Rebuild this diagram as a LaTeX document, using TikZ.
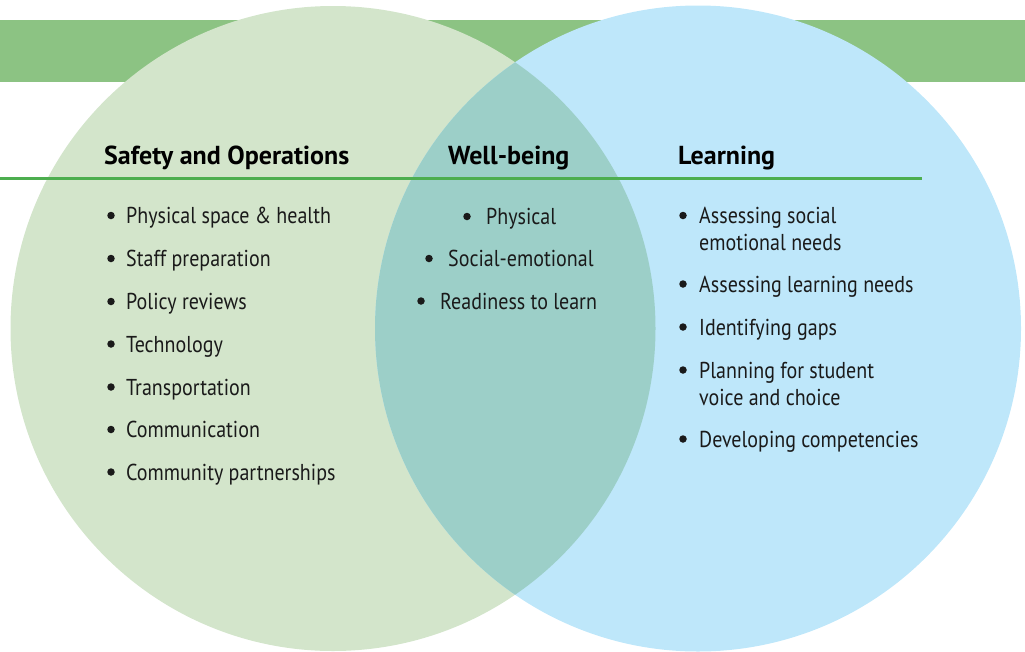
\documentclass[tikz,border=0pt]{standalone}
\usepackage{fontspec}
\setmainfont{PT Sans}[FakeStretch=0.87]
\newfontfamily\headfont{PT Sans}[FakeStretch=1.0]
\definecolor{bandc}{HTML}{8CC383}
\definecolor{leftc}{HTML}{D3E5CB}
\definecolor{rightc}{HTML}{BEE7FA}
\definecolor{overc}{HTML}{9CCFC8}
\definecolor{rulec}{HTML}{4DAE4F}
\definecolor{txt}{HTML}{1A1A1A}
\begin{document}
\begin{tikzpicture}[x=1pt,y=-1pt,
  item/.style={anchor=base west, inner sep=0pt, font=\fontsize{23}{27}\selectfont, text=txt},
  head/.style={anchor=base west, inner sep=0pt, font=\headfont\fontsize{26}{30}\selectfont\bfseries, text=black},
  dot/.style={circle, fill=txt, inner sep=0pt, minimum size=7.5pt}]
\useasboundingbox (0,0) rectangle (1025,651);
\clip (0,0) rectangle (1025,651);
\fill[bandc] (0,20) rectangle (1025,82);
\fill[leftc] (333,328.5) circle[radius=322.5pt];
\fill[rightc] (698,328.5) circle[radius=323pt];
\begin{scope}
  \clip (333,328.5) circle[radius=322.5pt];
  \fill[overc] (698,328.5) circle[radius=323pt];
\end{scope}
\coordinate (rs) at (0,178.5);
\coordinate (re) at (922,178.5);
\draw[rulec, line width=2.2pt] (rs) -- (re);
% headings
\node[head] (h1) at (104,164) {Safety and Operations};
\node[head] (h2) at (448,164) {Well-being};
\node[head] (h3) at (678,164) {Learning};
% left list
\node[dot] (ld1) at (111,215.5) {}; \node[item] (l1) at (126,223.5) {Physical space \& health};
\node[dot] (ld2) at (111,258.5) {}; \node[item] (l2) at (126,266.5) {Staff preparation};
\node[dot] (ld3) at (111,301.5) {}; \node[item] (l3) at (126,309.5) {Policy reviews};
\node[dot] (ld4) at (111,344) {}; \node[item] (l4) at (126,352) {Technology};
\node[dot] (ld5) at (111,387) {}; \node[item] (l5) at (126,395) {Transportation};
\node[dot] (ld6) at (111,429.5) {}; \node[item] (l6) at (126,437.5) {Communication};
\node[dot] (ld7) at (111,472) {}; \node[item] (l7) at (126,480) {Community partnerships};
% middle list
\node[dot] (md1) at (467,216.5) {}; \node[item] (m1) at (486,224.5) {Physical};
\node[dot] (md2) at (429,258.5) {}; \node[item] (m2) at (448,266.5) {Social-emotional};
\node[dot] (md3) at (421,301) {}; \node[item] (m3) at (440,309) {Readiness to learn};
% right list
\node[dot] (rd1) at (683,215.5) {}; \node[item] (r1a) at (699,223.5) {Assessing social};
\node[item] (r1b) at (699,250.5) {emotional needs};
\node[dot] (rd2) at (683,284) {}; \node[item] (r2) at (699,292) {Assessing learning needs};
\node[dot] (rd3) at (683,327) {}; \node[item] (r3) at (699,335) {Identifying gaps};
\node[dot] (rd4) at (683,370) {}; \node[item] (r4a) at (699,378) {Planning for student};
\node[item] (r4b) at (699,405) {voice and choice};
\node[dot] (rd5) at (683,439) {}; \node[item] (r5) at (699,447) {Developing competencies};
\end{tikzpicture}
\end{document}
